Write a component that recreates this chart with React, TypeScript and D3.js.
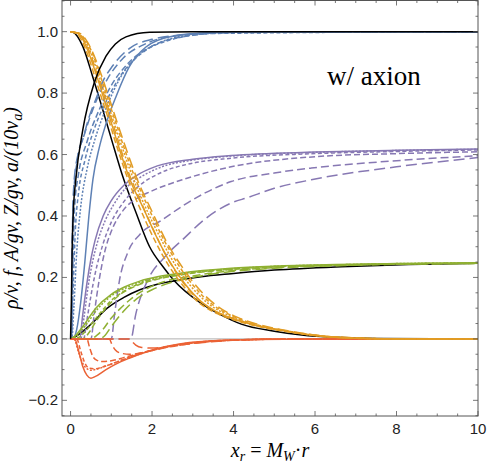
import * as d3 from "d3";

type Pt = [number, number];

// axis ticks
const xTicks = [0, 2, 4, 6, 8, 10];
const yTicks = [-0.2, 0, 0.2, 0.4, 0.6, 0.8, 1.0];

// black reference curves
const blackRise: Pt[] = [[0,0],[0.02,0.12],[0.04,0.3],[0.07,0.42],[0.13,0.52],[0.3,0.68],[0.58,0.833],[0.87,0.92],[1.1,0.96],[1.36,0.983],[1.94,0.998],[3,1],[10,1]];
const blackFall: Pt[] = [[0,1],[0.05,0.999],[0.3,0.952],[0.54,0.855],[0.79,0.746],[1.03,0.638],[1.28,0.529],[1.61,0.41],[1.94,0.3],[2.27,0.235],[2.54,0.19],[3.2,0.116],[3.94,0.062],[4.19,0.048],[5,0.025],[5.67,0.013],[6.5,0.005],[7.5,0.001],[10,0]];
const blackGreen: Pt[] = [[0,0],[0.1,0.006],[0.48,0.045],[0.9,0.1],[1.31,0.135],[1.7,0.16],[2.13,0.178],[2.6,0.19],[3.2,0.202],[3.94,0.212],[5,0.224],[6.65,0.235],[8.3,0.242],[10,0.246]];

// blue: solid, dotted, short dash ... long dash
const blue0: Pt[] = [[0,0],[0.05,0],[0.15,0.03],[0.25,0.12],[0.35,0.25],[0.45,0.4],[0.55,0.52],[0.7,0.62],[0.87,0.7],[1.12,0.79],[1.44,0.885],[1.85,0.95],[2.5,0.985],[3.5,0.997],[5,1],[10,1]];
const blue1: Pt[] = [[0,0],[0.03,0],[0.08,0.1],[0.15,0.28],[0.25,0.43],[0.4,0.55],[0.6,0.65],[0.87,0.75],[1.2,0.845],[1.6,0.915],[2.2,0.965],[3,0.99],[4,0.998],[10,1]];
const blue2: Pt[] = [[0,0],[0.02,0],[0.06,0.15],[0.12,0.36],[0.2,0.48],[0.35,0.58],[0.6,0.69],[0.9,0.78],[1.3,0.87],[1.8,0.935],[2.5,0.975],[3.5,0.994],[10,1]];
const blue3: Pt[] = [[0,0],[0.02,0],[0.05,0.2],[0.1,0.43],[0.2,0.54],[0.4,0.64],[0.7,0.745],[1.0,0.825],[1.4,0.895],[2,0.953],[3,0.988],[4,0.997],[10,1]];
const blue4: Pt[] = [[0,0],[0.02,0],[0.04,0.25],[0.08,0.48],[0.18,0.59],[0.35,0.67],[0.6,0.765],[0.9,0.845],[1.3,0.915],[1.8,0.958],[2.5,0.985],[4,0.998],[10,1]];
const blue5: Pt[] = [[0,0],[0.02,0],[0.04,0.3],[0.08,0.5],[0.18,0.6],[0.3,0.65],[0.45,0.72],[0.62,0.78],[0.8,0.84],[1.03,0.888],[1.44,0.945],[2.0,0.975],[3,0.992],[4,0.998],[10,1]];

// orange
const orange0: Pt[] = [[0,1],[0.15,0.996],[0.3,0.975],[0.45,0.93],[0.62,0.865],[0.8,0.79],[0.95,0.725],[1.1,0.66],[1.28,0.585],[1.5,0.505],[1.77,0.43],[2.1,0.335],[2.43,0.252],[2.8,0.18],[3.2,0.122],[3.6,0.087],[3.94,0.068],[4.5,0.045],[5.17,0.028],[5.7,0.016],[6.2,0.008],[7,0.002],[8,0],[10,0]];
const orange1: Pt[] = [[0,1],[0.2,0.993],[0.35,0.97],[0.5,0.93],[0.68,0.86],[0.87,0.785],[1.05,0.71],[1.25,0.63],[1.5,0.535],[1.8,0.44],[2.2,0.33],[2.55,0.245],[2.95,0.172],[3.4,0.113],[3.9,0.075],[4.5,0.046],[5.2,0.027],[6,0.011],[7,0.003],[8,0],[10,0]];
const orange2: Pt[] = [[0,1],[0.2,0.995],[0.38,0.97],[0.55,0.925],[0.72,0.86],[0.92,0.78],[1.12,0.7],[1.32,0.62],[1.58,0.525],[1.9,0.43],[2.3,0.32],[2.65,0.24],[3.05,0.168],[3.5,0.11],[4,0.073],[4.6,0.045],[5.3,0.026],[6,0.012],[7,0.003],[8,0],[10,0]];
const orange3: Pt[] = [[0,1],[0.15,0.994],[0.28,0.97],[0.42,0.925],[0.58,0.86],[0.76,0.785],[0.92,0.72],[1.08,0.65],[1.25,0.58],[1.45,0.505],[1.72,0.42],[2.05,0.325],[2.38,0.245],[2.75,0.175],[3.15,0.118],[3.6,0.082],[4.1,0.058],[4.7,0.038],[5.4,0.022],[6.2,0.008],[7,0.002],[8,0],[10,0]];
const orange4: Pt[] = [[0,1],[0.18,0.995],[0.33,0.972],[0.48,0.93],[0.65,0.862],[0.84,0.787],[1.0,0.718],[1.18,0.64],[1.4,0.55],[1.65,0.47],[1.98,0.37],[2.35,0.27],[2.7,0.195],[3.1,0.132],[3.55,0.09],[4,0.066],[4.6,0.043],[5.3,0.025],[6.1,0.01],[7,0.002],[8,0],[10,0]];
const orange5: Pt[] = [[0,1],[0.22,0.995],[0.42,0.965],[0.6,0.915],[0.78,0.85],[0.98,0.77],[1.18,0.69],[1.4,0.605],[1.65,0.515],[1.98,0.42],[2.38,0.31],[2.75,0.232],[3.15,0.162],[3.6,0.107],[4.1,0.07],[4.7,0.044],[5.4,0.025],[6.1,0.011],[7,0.003],[8,0],[10,0]];

// purple
const purple0: Pt[] = [[0,0],[0.22,0],[0.3,0.08],[0.4,0.18],[0.5,0.26],[0.6,0.32],[0.8,0.4],[1.0,0.45],[1.31,0.5],[1.6,0.53],[2.13,0.563],[3,0.585],[3.94,0.597],[6,0.608],[8,0.614],[10,0.618]];
const purple1: Pt[] = [[0,0],[0.25,0],[0.33,0.07],[0.43,0.17],[0.53,0.245],[0.65,0.31],[0.85,0.385],[1.05,0.435],[1.35,0.49],[1.7,0.525],[2.2,0.558],[3,0.582],[3.94,0.595],[6,0.607],[8,0.613],[10,0.617]];
const purple2: Pt[] = [[0,0],[0.32,0],[0.4,0.06],[0.5,0.14],[0.6,0.21],[0.8,0.31],[1.0,0.38],[1.3,0.445],[1.7,0.5],[2.2,0.54],[3,0.572],[3.94,0.588],[6,0.603],[8,0.61],[10,0.615]];
const purple3: Pt[] = [[0,0],[0.5,0],[0.58,0.08],[0.7,0.19],[0.87,0.3],[1.0,0.35],[1.3,0.42],[1.6,0.455],[1.97,0.48],[2.79,0.52],[3.94,0.56],[6,0.593],[8,0.603],[10,0.609]];
const purple4: Pt[] = [[0,0],[1.0,0],[1.08,0.08],[1.2,0.19],[1.4,0.28],[1.7,0.34],[2.22,0.385],[2.79,0.436],[3.3,0.475],[3.94,0.512],[5,0.54],[5.91,0.556],[8,0.58],[10,0.596]];
const purple5: Pt[] = [[0,0],[1.48,0],[1.6,0.08],[1.89,0.19],[2.3,0.265],[2.79,0.328],[3.3,0.39],[3.94,0.442],[4.35,0.46],[5,0.49],[5.91,0.518],[8,0.56],[10,0.59]];

// green
const green0: Pt[] = [[0,0],[0.1,0.008],[0.3,0.04],[0.62,0.1],[1.0,0.145],[1.31,0.168],[1.7,0.188],[2.13,0.202],[2.7,0.214],[3.94,0.23],[5,0.237],[6.5,0.242],[8,0.245],[10,0.248]];
const green1: Pt[] = [[0,0],[0.12,0.006],[0.35,0.04],[0.65,0.095],[1.0,0.14],[1.31,0.163],[1.7,0.184],[2.13,0.199],[2.7,0.212],[3.94,0.228],[5,0.236],[6.5,0.241],[8,0.245],[10,0.247]];
const green2: Pt[] = [[0,0],[0.2,0.005],[0.4,0.03],[0.7,0.08],[1.0,0.125],[1.31,0.155],[1.7,0.18],[2.13,0.196],[2.7,0.21],[3.94,0.227],[5,0.235],[6.5,0.241],[8,0.244],[10,0.247]];
const green3: Pt[] = [[0,0],[0.3,0],[0.45,0.02],[0.62,0.056],[0.9,0.105],[1.2,0.143],[1.6,0.172],[2.1,0.193],[2.8,0.21],[3.94,0.226],[5,0.234],[6.5,0.24],[8,0.244],[10,0.246]];
const green4: Pt[] = [[0,0],[0.5,0],[0.65,0.012],[0.79,0.03],[1.0,0.068],[1.2,0.096],[1.5,0.132],[1.85,0.162],[2.27,0.185],[3,0.205],[3.94,0.222],[5,0.232],[6.5,0.239],[8,0.243],[10,0.246]];
const green5: Pt[] = [[0,0],[0.7,0],[0.85,0.012],[1.0,0.04],[1.3,0.09],[1.6,0.128],[2,0.16],[2.5,0.185],[3.2,0.205],[4,0.22],[5,0.23],[6.5,0.238],[8,0.243],[10,0.245]];

// red
const red0: Pt[] = [[0,0],[0.1,0],[0.2,-0.04],[0.3,-0.09],[0.4,-0.118],[0.5,-0.128],[0.6,-0.123],[0.87,-0.1],[1.1,-0.083],[1.44,-0.063],[1.8,-0.045],[2.1,-0.033],[2.5,-0.021],[2.92,-0.012],[3.5,-0.006],[4.5,-0.002],[6,0],[10,0]];
const red1: Pt[] = [[0,0],[0.08,0],[0.2,-0.045],[0.3,-0.08],[0.4,-0.097],[0.5,-0.102],[0.6,-0.1],[0.87,-0.088],[1.2,-0.072],[1.5,-0.058],[2,-0.038],[2.5,-0.023],[3,-0.013],[4,-0.004],[6,0],[10,0]];
const red2: Pt[] = [[0,0],[0.15,0],[0.25,-0.04],[0.35,-0.078],[0.45,-0.095],[0.6,-0.097],[0.87,-0.088],[1.2,-0.072],[1.5,-0.057],[2,-0.037],[2.5,-0.022],[3,-0.012],[4,-0.004],[6,0],[10,0]];
const red3: Pt[] = [[0,0],[0.4,0],[0.47,-0.03],[0.55,-0.058],[0.65,-0.07],[0.8,-0.074],[1.0,-0.071],[1.3,-0.061],[1.7,-0.047],[2.2,-0.03],[2.8,-0.016],[3.5,-0.007],[5,-0.001],[10,0]];
const red4: Pt[] = [[0,0],[0.95,0],[1.02,-0.02],[1.1,-0.036],[1.25,-0.047],[1.45,-0.05],[1.8,-0.044],[2.2,-0.032],[2.8,-0.018],[3.5,-0.008],[5,-0.001],[10,0]];
const red5: Pt[] = [[0,0],[1.45,0],[1.52,-0.01],[1.6,-0.02],[1.75,-0.028],[2.0,-0.03],[2.4,-0.025],[3,-0.015],[3.8,-0.006],[5,-0.001],[10,0]];

const dashes = ["none", "2,1.6", "4,2.5", "6,3", "8,4", "11,5"];

const families = [
  { color: "#5e81b5", curves: [blue0, blue1, blue2, blue3, blue4, blue5] },
  { color: "#8778b3", curves: [purple0, purple1, purple2, purple3, purple4, purple5] },
  { color: "#8fb032", curves: [green0, green1, green2, green3, green4, green5] },
  { color: "#eb6235", curves: [red0, red1, red2, red3, red4, red5] },
  { color: "#e19c24", curves: [orange0, orange1, orange2, orange3, orange4, orange5] },
];

const width = 488;
const height = 465;
const frame = { left: 62, right: 478, top: 0.5, bottom: 416 };

export default function App() {
  const x = d3.scaleLinear().domain([-0.21, 10]).range([frame.left, frame.right]);
  const y = d3.scaleLinear().domain([-0.251, 1.103]).range([frame.bottom, 0]);
  const line = d3.line<Pt>().x(d => x(d[0])).y(d => y(d[1])).curve(d3.curveMonotoneX);

  const xMinor = d3.range(0, 10.01, 0.5);
  const yMinor = d3.range(-0.25, 1.101, 0.05);
  const frameColor = "#555";
  const font = "'Liberation Sans', Arial, sans-serif";
  const serif = "'Liberation Serif', 'Times New Roman', serif";

  return (
    <svg width={width} height={height} style={{ position: "absolute", left: 0, top: 0, background: "#fff" }}>
      <defs>
        <clipPath id="plot">
          <rect x={frame.left} y={0} width={frame.right - frame.left} height={frame.bottom} />
        </clipPath>
      </defs>
      <g clipPath="url(#plot)">
        <line x1={frame.left} x2={frame.right} y1={y(0)} y2={y(0)} stroke="#b0b0b0" strokeWidth={1} />
        <path d={line(blackGreen) || ""} fill="none" stroke="#000" strokeWidth={1.5} />
        <path d={line(blackFall) || ""} fill="none" stroke="#000" strokeWidth={1.5} />
        {families.map((f, i) =>
          f.curves.map((c, j) => (
            <path key={`${i}-${j}`} d={line(c) || ""} fill="none" stroke={f.color}
              strokeWidth={1.5} strokeDasharray={dashes[j]} />
          ))
        )}
        <path d={line(blackRise) || ""} fill="none" stroke="#000" strokeWidth={1.5} />
      </g>
      {/* frame */}
      <rect x={frame.left} y={frame.top} width={frame.right - frame.left} height={frame.bottom - frame.top}
        fill="none" stroke={frameColor} strokeWidth={1} />
      {xMinor.map(t => {
        const major = Math.abs(t / 2 - Math.round(t / 2)) < 1e-6;
        const len = major ? 5 : 2.5;
        return (
          <g key={`xt${t}`} stroke={frameColor} strokeWidth={0.8}>
            <line x1={x(t)} x2={x(t)} y1={frame.bottom} y2={frame.bottom - len} />
            <line x1={x(t)} x2={x(t)} y1={frame.top} y2={frame.top + len} />
          </g>
        );
      })}
      {yMinor.map(t => {
        const major = Math.abs(t / 0.2 - Math.round(t / 0.2)) < 1e-6;
        const len = major ? 5 : 2.5;
        return (
          <g key={`yt${t.toFixed(2)}`} stroke={frameColor} strokeWidth={0.8}>
            <line x1={frame.left} x2={frame.left + len} y1={y(t)} y2={y(t)} />
            <line x1={frame.right} x2={frame.right - len} y1={y(t)} y2={y(t)} />
          </g>
        );
      })}
      {xTicks.map(t => (
        <text key={`xl${t}`} x={x(t)} y={434} textAnchor="middle" fontFamily={font} fontSize={15} fill="#222">{t}</text>
      ))}
      {yTicks.map(t => (
        <text key={`yl${t}`} x={frame.left - 4} y={y(t) + 5} textAnchor="end" fontFamily={font} fontSize={15} fill="#222">
          {t < 0 ? `\u2212${Math.abs(t).toFixed(1)}` : t.toFixed(1)}
        </text>
      ))}
      <text x={270} y={457} textAnchor="middle" fontFamily={serif} fontSize={20} fontStyle="italic">
        x<tspan fontSize={14} dy={4}>r</tspan><tspan dy={-4} fontStyle="normal"> = </tspan>M<tspan fontSize={14} dy={4}>W</tspan><tspan dy={-4} fontStyle="normal">·</tspan>r
      </text>
      <text transform={`translate(18,208) rotate(-90)`} textAnchor="middle" fontFamily={serif} fontSize={20} fontStyle="italic">
        ρ/v, f, A/gv, Z/gv, a/(10v<tspan fontSize={14} dy={4}>a</tspan><tspan dy={-4}>)</tspan>
      </text>
      <text x={327} y={85} fontFamily={serif} fontSize={27}>w/ axion</text>
    </svg>
  );
}
